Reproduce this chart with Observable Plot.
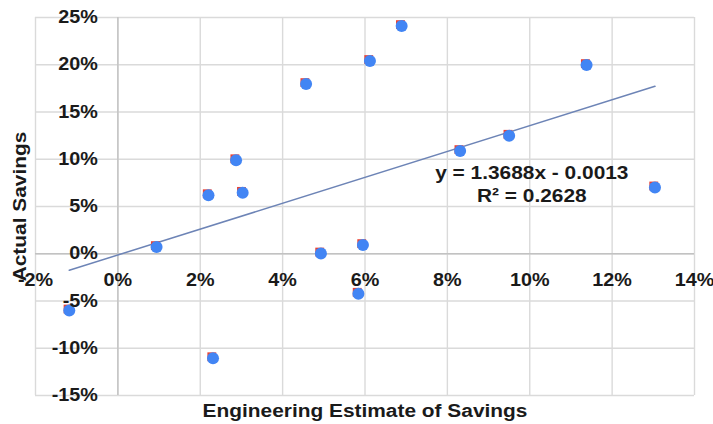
<!DOCTYPE html>
<html><head><meta charset="utf-8">
<script src="https://cdn.jsdelivr.net/npm/d3@7"></script>
<script src="https://cdn.jsdelivr.net/npm/@observablehq/plot@0.6"></script>
<style>body{margin:0;background:#fff}</style>
</head><body><div id="chart"></div>
<script>
// Data
const estimate = [-0.0118, 0.0094, 0.0231, 0.0220, 0.0287, 0.0303, 0.0457, 0.0493, 0.0595, 0.0584, 0.0612, 0.0689, 0.0831, 0.0950, 0.1138, 0.1304];
const actual   = [-0.0600, 0.0071, -0.1105, 0.0620, 0.0990, 0.0645, 0.1796, 0.0003, 0.0092, -0.0423, 0.2040, 0.2410, 0.1087, 0.1249, 0.1997, 0.0702];
const xTicks = [-0.02, 0, 0.02, 0.04, 0.06, 0.08, 0.10, 0.12, 0.14];
const yTicks = [-0.15, -0.10, -0.05, 0, 0.05, 0.10, 0.15, 0.20, 0.25];
const slope = 1.3688, intercept = -0.0013;
const equationLines = ["y = 1.3688x - 0.0013", "R² = 0.2628"];
const equationPos = {x: 0.1005, y: [0.0857, 0.0614]};
const xTitle = "Engineering Estimate of Savings";
const yTitle = "Actual Savings";

const points = estimate.map((x, i) => ({x, y: actual[i]}));
const xmin = d3.min(estimate), xmax = d3.max(estimate);
const trend = [xmin, xmax].map(x => ({x, y: slope * x + intercept}));
const pct = v => Math.round(v * 100) + "%";
const eq = equationLines.map((t, i) => ({t, x: equationPos.x, y: equationPos.y[i]}));

const txt = {fontWeight: "bold", fill: "#1a1a1a"};
const chart = Plot.plot({
  width: 713, height: 424,
  marginLeft: 35, marginRight: 19, marginTop: 17, marginBottom: 29,
  x: {domain: [-0.02, 0.14], axis: null},
  y: {domain: [-0.15, 0.25], axis: null},
  style: {fontFamily: "'Liberation Sans', Arial, sans-serif", background: "#fff"},
  marks: [
    Plot.ruleX(xTicks, {stroke: "#dadada", strokeWidth: 1.4}),
    Plot.ruleY(yTicks, {stroke: "#dadada", strokeWidth: 1.4}),
    Plot.ruleX([0], {stroke: "#c2c2c2", strokeWidth: 1.4}),
    Plot.ruleY([0], {stroke: "#c2c2c2", strokeWidth: 1.4}),
    Plot.line(trend, {x: "x", y: "y", stroke: "#6d84b6", strokeWidth: 1.5}),
    Plot.dot(points, {x: "x", y: "y", symbol: "square", r: 5, fill: "#ea4335", dx: -1.2, dy: -1.4}),
    Plot.dot(points, {x: "x", y: "y", r: 6, fill: "#4285f4"}),
    Plot.text(yTicks, {x: () => 0, y: d => d, text: pct, dx: -20, textAnchor: "end", fontSize: 17.5, ...txt}),
    Plot.text(xTicks, {x: d => d, y: () => 0, text: pct, dy: 27, fontSize: 17.5, ...txt}),
    Plot.text(eq, {x: "x", y: "y", text: "t", fontSize: 18.5, ...txt}),
    Plot.text([xTitle], {frameAnchor: "bottom", dy: 16, textAnchor: "middle", lineAnchor: "middle", fontSize: 18.5, ...txt}),
    Plot.text([yTitle], {frameAnchor: "left", dx: -15, rotate: -90, textAnchor: "middle", lineAnchor: "middle", fontSize: 18.5, ...txt})
  ]
});
document.getElementById("chart").appendChild(chart);
// The reference's text is horizontally wider than Arial; stretch glyphs slightly
chart.querySelectorAll("text").forEach(t => {
  const tr = t.getAttribute("transform") || "";
  t.setAttribute("transform", `${tr} scale(1.13,1)`);
});
</script>
</body></html>
